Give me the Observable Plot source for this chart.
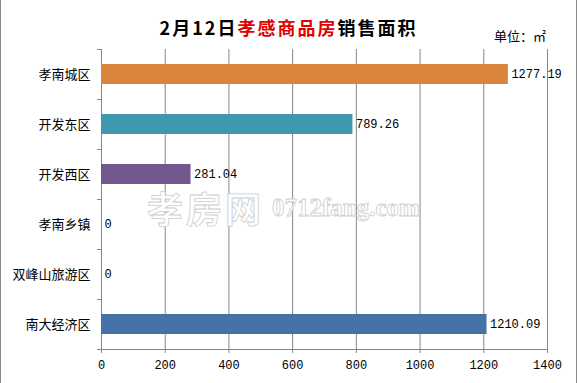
<!DOCTYPE html>
<html>
<head>
<meta charset="utf-8">
<script src="https://cdn.jsdelivr.net/npm/d3@7"></script>
<script src="https://cdn.jsdelivr.net/npm/@observablehq/plot@0.6"></script>
<style>
  html, body { margin: 0; padding: 0; background: #fff; }
  #wrap { position: relative; width: 577px; height: 383px; overflow: hidden; background: #fff; }
  #frame { position: absolute; left: 0; top: 0; width: 577px; height: 383px; box-sizing: border-box;
           border-left: 1px solid #8a8a8a; border-right: 1px solid #8a8a8a; pointer-events: none; }
  #head { position: relative; height: 40px; }
  #title { position: absolute; left: 0; width: 577px; top: 15px; line-height: 24px; text-align: center;
           font-family: "Noto Sans CJK SC", sans-serif; font-weight: bold; font-size: 18px; letter-spacing: 2px; color: #000; }
  #title .red { color: #e00000; }
  #unit { position: absolute; left: 494px; top: 27px; line-height: 18px; font-family: "Noto Sans CJK SC", sans-serif;
          font-size: 13px; color: #000; }
  #chart svg { display: block; }
  .wm { position: absolute; color: #fff; -webkit-text-stroke: 0.8px #cdcdcd; pointer-events: none; white-space: nowrap; }
  #wm1 { left: 147px; top: 189px; font-family: "Noto Sans CJK SC", sans-serif; font-weight: bold; font-size: 36px; letter-spacing: 3px; line-height: 36px; }
  #wm2 { left: 272px; top: 195px; font-family: "Liberation Serif", serif; font-weight: bold; font-size: 25px; line-height: 25px; }
</style>
</head>
<body>
<div id="wrap">
  <div id="head">
    <div id="title">2月12日<span class="red">孝感商品房</span>销售面积</div>
    <div id="unit">单位：㎡</div>
  </div>
  <div id="chart"></div>
  <div class="wm" id="wm1">孝房网</div>
  <div class="wm" id="wm2">0712fang.com</div>
  <div id="frame"></div>
</div>
<script>
const categories = ["孝南城区", "开发东区", "开发西区", "孝南乡镇", "双峰山旅游区", "南大经济区"];
const values = [1277.19, 789.26, 281.04, 0, 0, 1210.09];
const valueLabels = ["1277.19", "789.26", "281.04", "0", "0", "1210.09"];
const barColors = ["#db843d", "#3f98ae", "#71588f", "#4572a7", "#4572a7", "#4572a7"];
const xTicks = [0, 200, 400, 600, 800, 1000, 1200, 1400];

const data = categories.map((name, i) => ({name, value: values[i], label: valueLabels[i]}));
const gray = "#868686";

const chart = Plot.plot({
  width: 577,
  height: 343,
  marginTop: 9,
  marginBottom: 34,
  marginLeft: 101,
  marginRight: 30,
  style: {background: "#fff", color: "#000", overflow: "visible"},
  x: {domain: [0, 1400], label: null},
  y: {domain: categories, paddingInner: 0.6, paddingOuter: 0.3, label: null},
  color: {domain: categories, range: barColors},
  marks: [
    Plot.gridX(xTicks, {stroke: gray, strokeOpacity: 1}),
    Plot.frame({anchor: "left", stroke: gray}),
    Plot.frame({anchor: "bottom", stroke: gray}),
    Plot.ruleY(categories, {y: d => d, x1: 0, x2: 0, insetLeft: -4, dy: -25, stroke: gray}),
    Plot.ruleY(categories.slice(-1), {y: d => d, x1: 0, x2: 0, insetLeft: -4, dy: 25, stroke: gray}),
    Plot.axisX(xTicks, {tickSize: 4, tickPadding: 7, stroke: gray, fill: "#000", tickFormat: d => String(d), label: null,
      fontFamily: "Liberation Mono, monospace", fontSize: 12}),
    Plot.axisY({tickSize: 0, tickPadding: 11, fill: "#000", label: null, fontFamily: "Noto Sans CJK SC, sans-serif", fontSize: 13}),
    Plot.barX(data, {x: "value", y: "name", fill: "name"}),
    Plot.text(data, {x: "value", y: "name", text: "label", dx: 3, textAnchor: "start", fill: "#000",
      fontFamily: "Liberation Mono, monospace", fontSize: 12})
  ]
});
document.getElementById("chart").appendChild(chart);
</script>
</body>
</html>
